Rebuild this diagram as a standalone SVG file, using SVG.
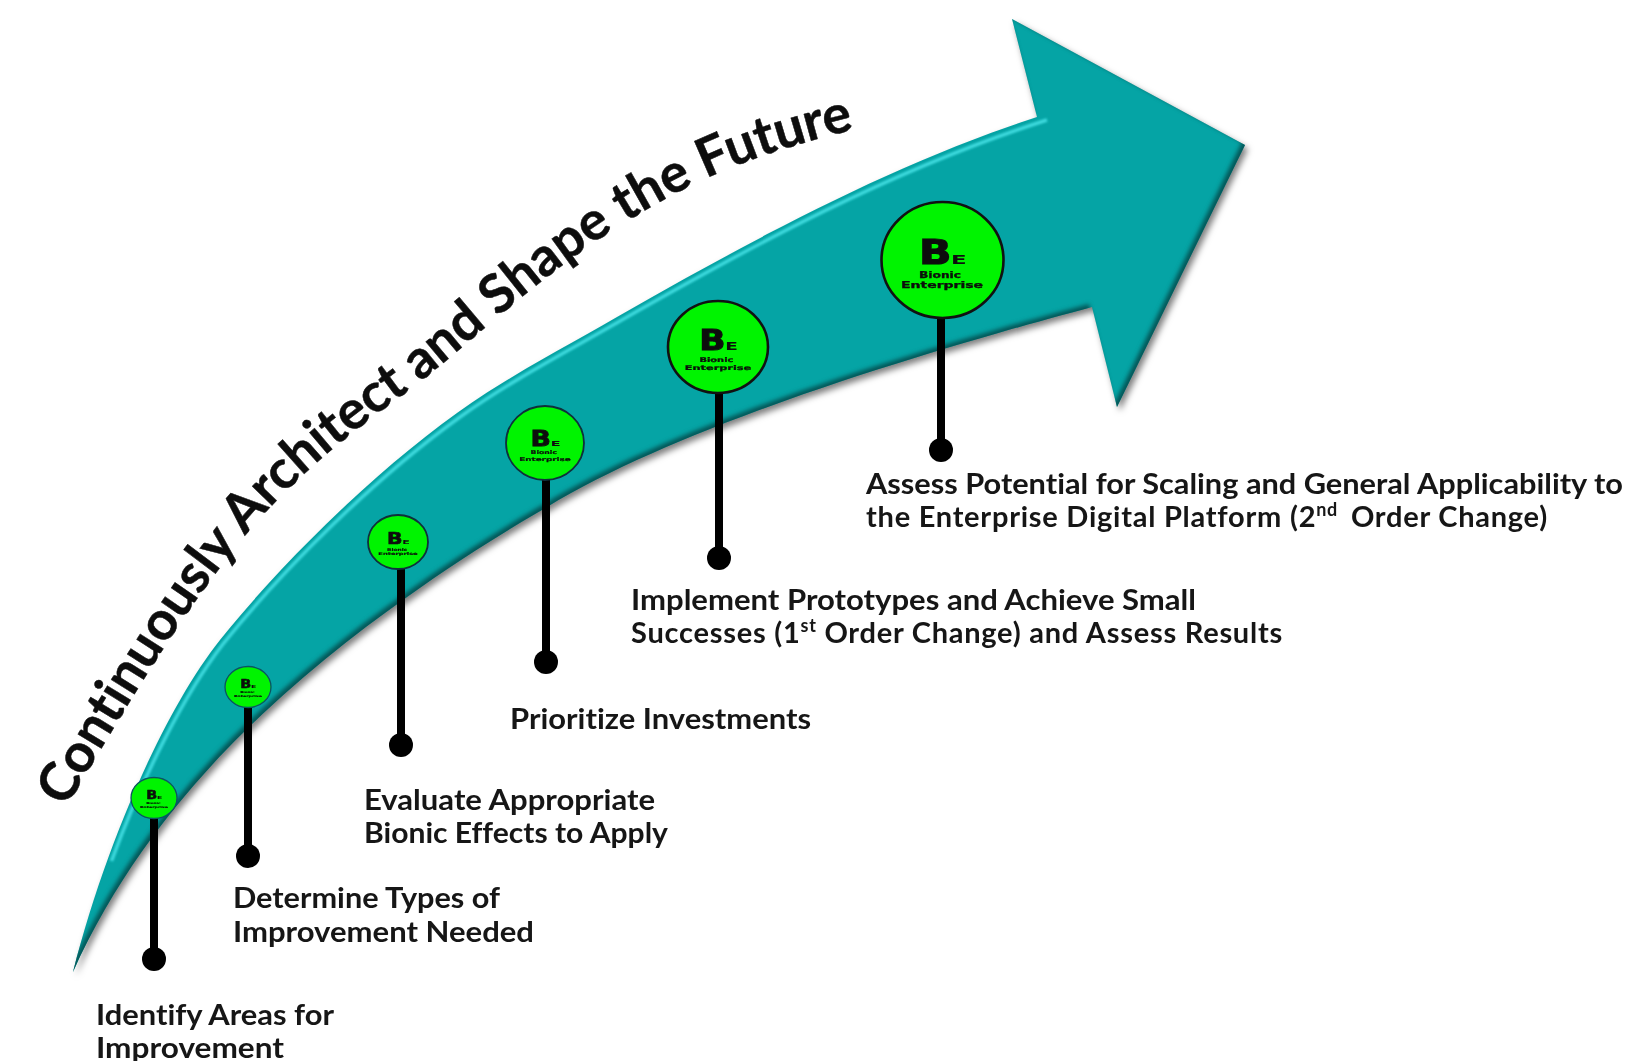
<svg xmlns="http://www.w3.org/2000/svg" width="1630" height="1061" viewBox="0 0 1630 1061">
<style>
.lab{font-family:Lato,"Open Sans",sans-serif;font-weight:700;font-size:29px;fill:#141414;font-variant-ligatures:none}
.ttl{font-family:Lato,"Open Sans",sans-serif;font-weight:700;font-size:53.7px;fill:#111;stroke:#111;stroke-width:.5;font-variant-ligatures:none}
.stem{stroke:#000;stroke-width:8;fill:none}
.bub{fill:#00f400}
.b1{stroke:#0c5560;stroke-width:1.3}
.b2{stroke:#10303a;stroke-width:1.8}
.b3{stroke:#111;stroke-width:2.6}
.logo{font-family:"DejaVu Sans",sans-serif;font-weight:700;fill:#0a0a0a}
.B{font-size:34px;stroke:#0a0a0a;stroke-width:1.2}
.E{font-size:12px}
.s{font-size:8px;text-anchor:middle;stroke:#0a0a0a;stroke-width:.25}
.blur{filter:url(#sharp)}
</style>
<defs>
<filter id="bev" x="-5%" y="-5%" width="112%" height="112%" color-interpolation-filters="sRGB">
<feGaussianBlur in="SourceAlpha" stdDeviation="3" result="b"/>
<feOffset in="b" dx="3" dy="4" result="o"/>
<feFlood flood-color="#000" flood-opacity=".5"/><feComposite in2="o" operator="in" result="shadow"/>
<feOffset in="SourceAlpha" dx="-3" dy="-3" result="i1"/>
<feGaussianBlur in="i1" stdDeviation="2" result="i2"/>
<feComposite in="SourceAlpha" in2="i2" operator="out" result="i3"/>
<feFlood flood-color="#04494a" flood-opacity=".85"/><feComposite in2="i3" operator="in" result="inner"/>
<feMerge><feMergeNode in="shadow"/><feMergeNode in="SourceGraphic"/><feMergeNode in="inner"/></feMerge>
</filter>
<filter id="soft" x="-5%" y="-5%" width="110%" height="110%"><feGaussianBlur stdDeviation="1"/></filter>
<filter id="sharp" x="-2%" y="-2%" width="104%" height="104%"><feGaussianBlur stdDeviation=".55"/></filter>
<path id="tp" fill="none" d="M66 808 C130 700 190 600 250 530 S370 420 416 385 S540 275 624 223 S770 150 860 128"/>
</defs>
<g id="arrow">
<path filter="url(#bev)" fill="#05a4a5" d="M73 972 C105 845 165 709 220 640 C280 565 372 474 457 413 C507 377 565 347 617 317 C750 241 890 165 1037 117 L1012 19 L1245 145 L1117 407 L1092 307 C950 345 690 420 547 507 C498 535 450 566 407 597 C290 680 150 800 73 972 Z"/>
<path filter="url(#soft)" fill="none" stroke="#3edade" stroke-width="3.5" d="M111.5 861 C143.6 774 184.5 694 223 644 C283 569 375 478 460 417 C510 381 568 351 620 321 C753 245 893 169 1047 120"/>
</g>
<g id="title" class="blur"><text class="ttl"><textPath href="#tp" startOffset="0">Continuously Architect and Shape the Future</textPath></text></g>
<g id="connectors">
<path class="stem" d="M154 815V959"/><circle cx="154" cy="959" r="12"/>
<path class="stem" d="M248 705V856"/><circle cx="248" cy="856" r="12"/>
<path class="stem" d="M401 565V745"/><circle cx="401" cy="745" r="12"/>
<path class="stem" d="M546 478V662"/><circle cx="546" cy="662" r="12"/>
<path class="stem" d="M719 390V558"/><circle cx="719" cy="558" r="12"/>
<path class="stem" d="M941 315V450"/><circle cx="941" cy="450" r="12"/>
</g>
<g id="n1"><ellipse class="bub b1" cx="154" cy="798" rx="23" ry="20.5"/>
<g class="logo blur" transform="translate(154 798) scale(.34)"><text class="B" transform="translate(-23 4) scale(1.25 1)">B</text><text class="E" transform="translate(9 4) scale(1.9 1)">E</text><text class="s" x="-2" y="18" textLength="42" lengthAdjust="spacingAndGlyphs">Bionic</text><text class="s" y="28" textLength="82" lengthAdjust="spacingAndGlyphs">Enterprise</text></g></g>
<g id="n2"><ellipse class="bub b1" cx="248" cy="687" rx="23" ry="20.5"/>
<g class="logo blur" transform="translate(248 687) scale(.34)"><text class="B" transform="translate(-23 4) scale(1.25 1)">B</text><text class="E" transform="translate(9 4) scale(1.9 1)">E</text><text class="s" x="-2" y="18" textLength="42" lengthAdjust="spacingAndGlyphs">Bionic</text><text class="s" y="28" textLength="82" lengthAdjust="spacingAndGlyphs">Enterprise</text></g></g>
<g id="n3"><ellipse class="bub b2" cx="398" cy="542" rx="30" ry="27"/>
<g class="logo blur" transform="translate(398 542) scale(.48)"><text class="B" transform="translate(-23 4) scale(1.25 1)">B</text><text class="E" transform="translate(9 4) scale(1.9 1)">E</text><text class="s" x="-2" y="18" textLength="42" lengthAdjust="spacingAndGlyphs">Bionic</text><text class="s" y="28" textLength="82" lengthAdjust="spacingAndGlyphs">Enterprise</text></g></g>
<g id="n4"><ellipse class="bub b2" cx="545" cy="443" rx="39" ry="37"/>
<g class="logo blur" transform="translate(545 443) scale(.63)"><text class="B" transform="translate(-23 4) scale(1.25 1)">B</text><text class="E" transform="translate(9 4) scale(1.9 1)">E</text><text class="s" x="-2" y="18" textLength="42" lengthAdjust="spacingAndGlyphs">Bionic</text><text class="s" y="28" textLength="82" lengthAdjust="spacingAndGlyphs">Enterprise</text></g></g>
<g id="n5"><ellipse class="bub b3" cx="718" cy="347" rx="50" ry="46"/>
<g class="logo blur" transform="translate(718 347) scale(.81)"><text class="B" transform="translate(-23 4) scale(1.25 1)">B</text><text class="E" transform="translate(9 4) scale(1.9 1)">E</text><text class="s" x="-2" y="18" textLength="42" lengthAdjust="spacingAndGlyphs">Bionic</text><text class="s" y="28" textLength="82" lengthAdjust="spacingAndGlyphs">Enterprise</text></g></g>
<g id="n6"><ellipse class="bub b3" cx="942.5" cy="260" rx="61" ry="58"/>
<g class="logo blur" transform="translate(942 260)"><text class="B" transform="translate(-23 4) scale(1.25 1)">B</text><text class="E" transform="translate(9 4) scale(1.9 1)">E</text><text class="s" x="-2" y="18" textLength="42" lengthAdjust="spacingAndGlyphs">Bionic</text><text class="s" y="28" textLength="82" lengthAdjust="spacingAndGlyphs">Enterprise</text></g></g>
<g id="labels" class="blur">
<text class="lab" x="96" y="1025" textLength="238" lengthAdjust="spacingAndGlyphs">Identify Areas for</text>
<text class="lab" x="96" y="1058" textLength="188" lengthAdjust="spacingAndGlyphs">Improvement</text>
<text class="lab" x="233" y="908" textLength="267" lengthAdjust="spacingAndGlyphs">Determine Types of</text>
<text class="lab" x="233" y="942" textLength="301" lengthAdjust="spacingAndGlyphs">Improvement Needed</text>
<text class="lab" x="364" y="810" textLength="291" lengthAdjust="spacingAndGlyphs">Evaluate Appropriate</text>
<text class="lab" x="364" y="843" textLength="304" lengthAdjust="spacingAndGlyphs">Bionic Effects to Apply</text>
<text class="lab" x="510" y="729" textLength="301" lengthAdjust="spacingAndGlyphs">Prioritize Investments</text>
<text class="lab" x="631" y="610" textLength="565" lengthAdjust="spacingAndGlyphs">Implement Prototypes and Achieve Small</text>
<text class="lab" x="631" y="643" letter-spacing=".75">Successes (1<tspan font-size="18" dy="-11">st</tspan><tspan dy="11"> Order Change) and Assess Results</tspan></text>
<text class="lab" x="866" y="494" textLength="757" lengthAdjust="spacingAndGlyphs">Assess Potential for Scaling and General Applicability to</text>
<text class="lab" x="866" y="527" letter-spacing=".75">the Enterprise Digital Platform (2<tspan font-size="18" dy="-11">nd</tspan><tspan dy="11" dx="5"> Order Change)</tspan></text>
</g>
</svg>
